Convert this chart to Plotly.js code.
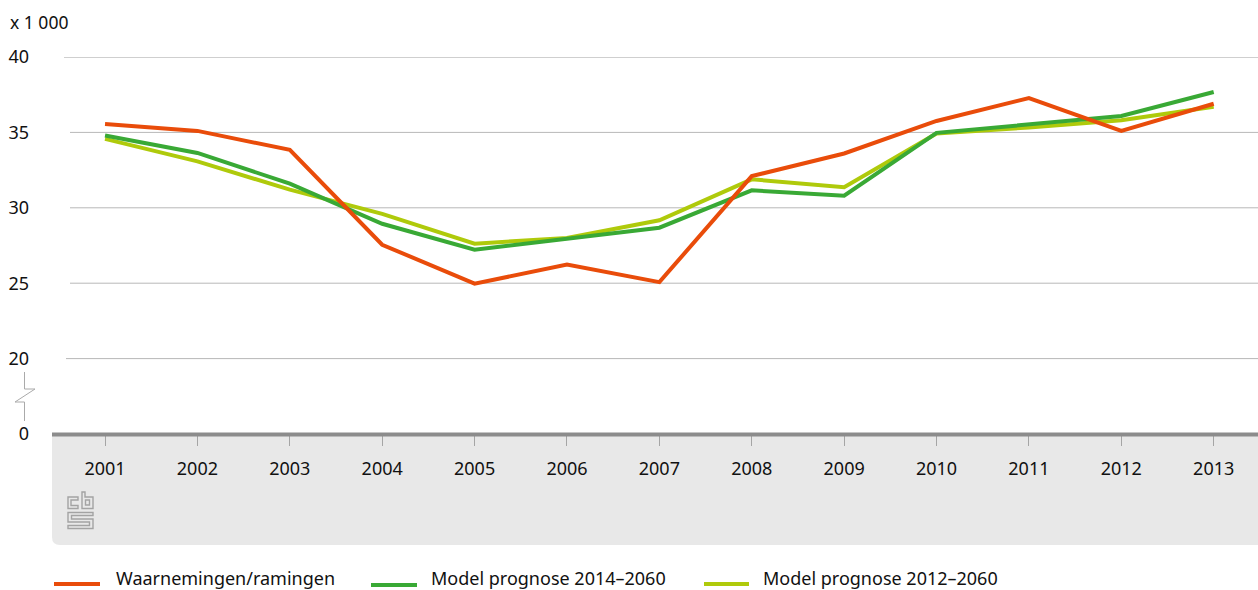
<!DOCTYPE html>
<html><head><meta charset="utf-8">
<script src="https://cdn.plot.ly/plotly-3.0.1.min.js"></script>
<style>html,body{margin:0;padding:0;background:#fff;overflow:hidden}</style>
</head><body><div id="chart" style="width:1258px;height:590px"></div>
<script>
const years = [2001,2002,2003,2004,2005,2006,2007,2008,2009,2010,2011,2012,2013];
const waarnemingen = [35.56,35.1,33.84,27.55,24.97,26.23,25.07,32.1,33.6,35.76,37.28,35.1,36.9];
const prognose2014 = [34.8,33.64,31.6,28.94,27.22,27.98,28.68,31.16,30.8,34.97,35.56,36.09,37.68];
const prognose2012 = [34.57,33.08,31.2,29.6,27.62,28.0,29.17,31.89,31.36,34.93,35.33,35.8,36.7];
const yTickVals = [15,20,25,30,35,40];
const yTickText = ['0','20','25','30','35','40'];
const seriesNames = ['Waarnemingen/ramingen','Model prognose 2014–2060','Model prognose 2012–2060'];
const seriesColors = ['#e94c0a','#39a935','#afca0b'];

const W=1258,H=590,L=52,T=57,B=434;
const fx=x=>(x-L)/(W-L), fy=y=>(B-y)/(B-T);
const FONT='"Noto Sans", sans-serif';
// translate a pixel-space path description into paper-fraction coordinates
function path(cmds){return cmds.map(c=>typeof c==='string'?c:fx(c[0])+','+fy(c[1])).join(' ');}
const paperShape=(p,o)=>Object.assign({type:'path',xref:'paper',yref:'paper',path:p,layer:'below'},o);

const shapes=[];
// footer panel
shapes.push(paperShape(path(['M',[L,B],'L',[L,537],'Q',[L,545],[60,545],'L',[W,545],'L',[W,B],'Z']),{fillcolor:'#e8e8e8',line:{width:0}}));
// gridlines start just right of their labels
const gridStart={20:66,25:70,30:70,35:70,40:64};
[20,25,30,35,40].forEach(v=>shapes.push({type:'line',xref:'paper',yref:'y',x0:fx(gridStart[v]),x1:1,y0:v,y1:v,layer:'below',line:{color:v===40?'#a0a0a0':'#b8b8b8',width:1}}));
// baseline
shapes.push({type:'line',xref:'paper',yref:'paper',x0:0,x1:1,y0:fy(434.5),y1:fy(434.5),layer:'above',line:{color:'#8c8c8c',width:4}});
// axis break
shapes.push(paperShape(path(['M',[24.5,372],'L',[24.5,389],'L',[35,389],'L',[15,402],'L',[24.5,402],'L',[24.5,421]]),{line:{color:'#aaaaaa',width:1},fillcolor:'rgba(0,0,0,0)'}));
// cbs logo
const logo={line:{color:'#a3a3a3',width:1.4},fillcolor:'rgba(0,0,0,0)'};
shapes.push(paperShape(path(['M',[78,497],'L',[68,497],'L',[68,508.5],'L',[78,508.5],'L',[78,505.5],'L',[71,505.5],'L',[71,500],'L',[78,500],'Z']),logo));
shapes.push(paperShape(path(['M',[82,492],'L',[85,492],'L',[85,497],'L',[93,497],'L',[93,508.5],'L',[82,508.5],'Z']),logo));
shapes.push(paperShape(path(['M',[85.5,500],'L',[89.5,500],'L',[89.5,505],'L',[85.5,505],'Z']),logo));
shapes.push(paperShape(path(['M',[68,512.5],'L',[93,512.5],'L',[93,515.5],'L',[71.5,515.5],'L',[71.5,519],'L',[93,519],'L',[93,528.5],'L',[68,528.5],'L',[68,525.5],'L',[89.5,525.5],'L',[89.5,522],'L',[68,522],'Z']),logo));
// legend swatches and labels
const legendSwatch=[[54,100,584],[371,417,585],[704,749,584]];
const legendText=[[115,577.5],[430,577.5],[762,577.5]];
legendSwatch.forEach((s,i)=>shapes.push({type:'line',xref:'paper',yref:'paper',x0:fx(s[0]),x1:fx(s[1]),y0:fy(s[2]),y1:fy(s[2]),line:{color:seriesColors[i],width:4}}));

const annotations=seriesNames.map((n,i)=>({text:n,xref:'paper',yref:'paper',x:fx(legendText[i][0]),y:fy(legendText[i][1]),xanchor:'left',yanchor:'middle',showarrow:false,borderpad:0,font:{family:FONT,size:18,color:'#111'}}));
annotations.push({text:'x 1 000',xref:'paper',yref:'paper',x:fx(9),y:fy(22),xanchor:'left',yanchor:'middle',showarrow:false,borderpad:0,font:{family:FONT,size:17.5,color:'#111'}});

const series=[waarnemingen,prognose2014,prognose2012];
// draw order: lime first, red on top
const traces=[2,1,0].map(i=>({type:'scatter',mode:'lines',x:years,y:series[i],name:seriesNames[i],line:{color:seriesColors[i],width:4,shape:'linear'},hoverinfo:'x+y+name'}));

Plotly.newPlot('chart',traces,{
  width:W,height:H,showlegend:false,
  margin:{l:L,r:0,t:T,b:H-B,pad:0},
  paper_bgcolor:'#fff',plot_bgcolor:'rgba(0,0,0,0)',
  font:{family:FONT,size:18,color:'#111'},
  xaxis:{type:'linear',range:[2000.426,2013.4795],tickmode:'array',tickvals:years,ticktext:years.map(String),
    showgrid:false,zeroline:false,showline:false,
    ticks:'outside',ticklen:11,tickwidth:1,tickcolor:'#a5a5a5',ticklabelstandoff:7,tickfont:{family:FONT,size:18,color:'#111'}},
  yaxis:{type:'linear',range:[15,40],tickmode:'array',tickvals:yTickVals,ticktext:yTickText,
    showgrid:false,zeroline:false,showline:false,ticks:'',ticklabelstandoff:22,tickfont:{family:FONT,size:18,color:'#111'}},
  shapes,annotations
},{displayModeBar:false,staticPlot:true});
</script></body></html>
